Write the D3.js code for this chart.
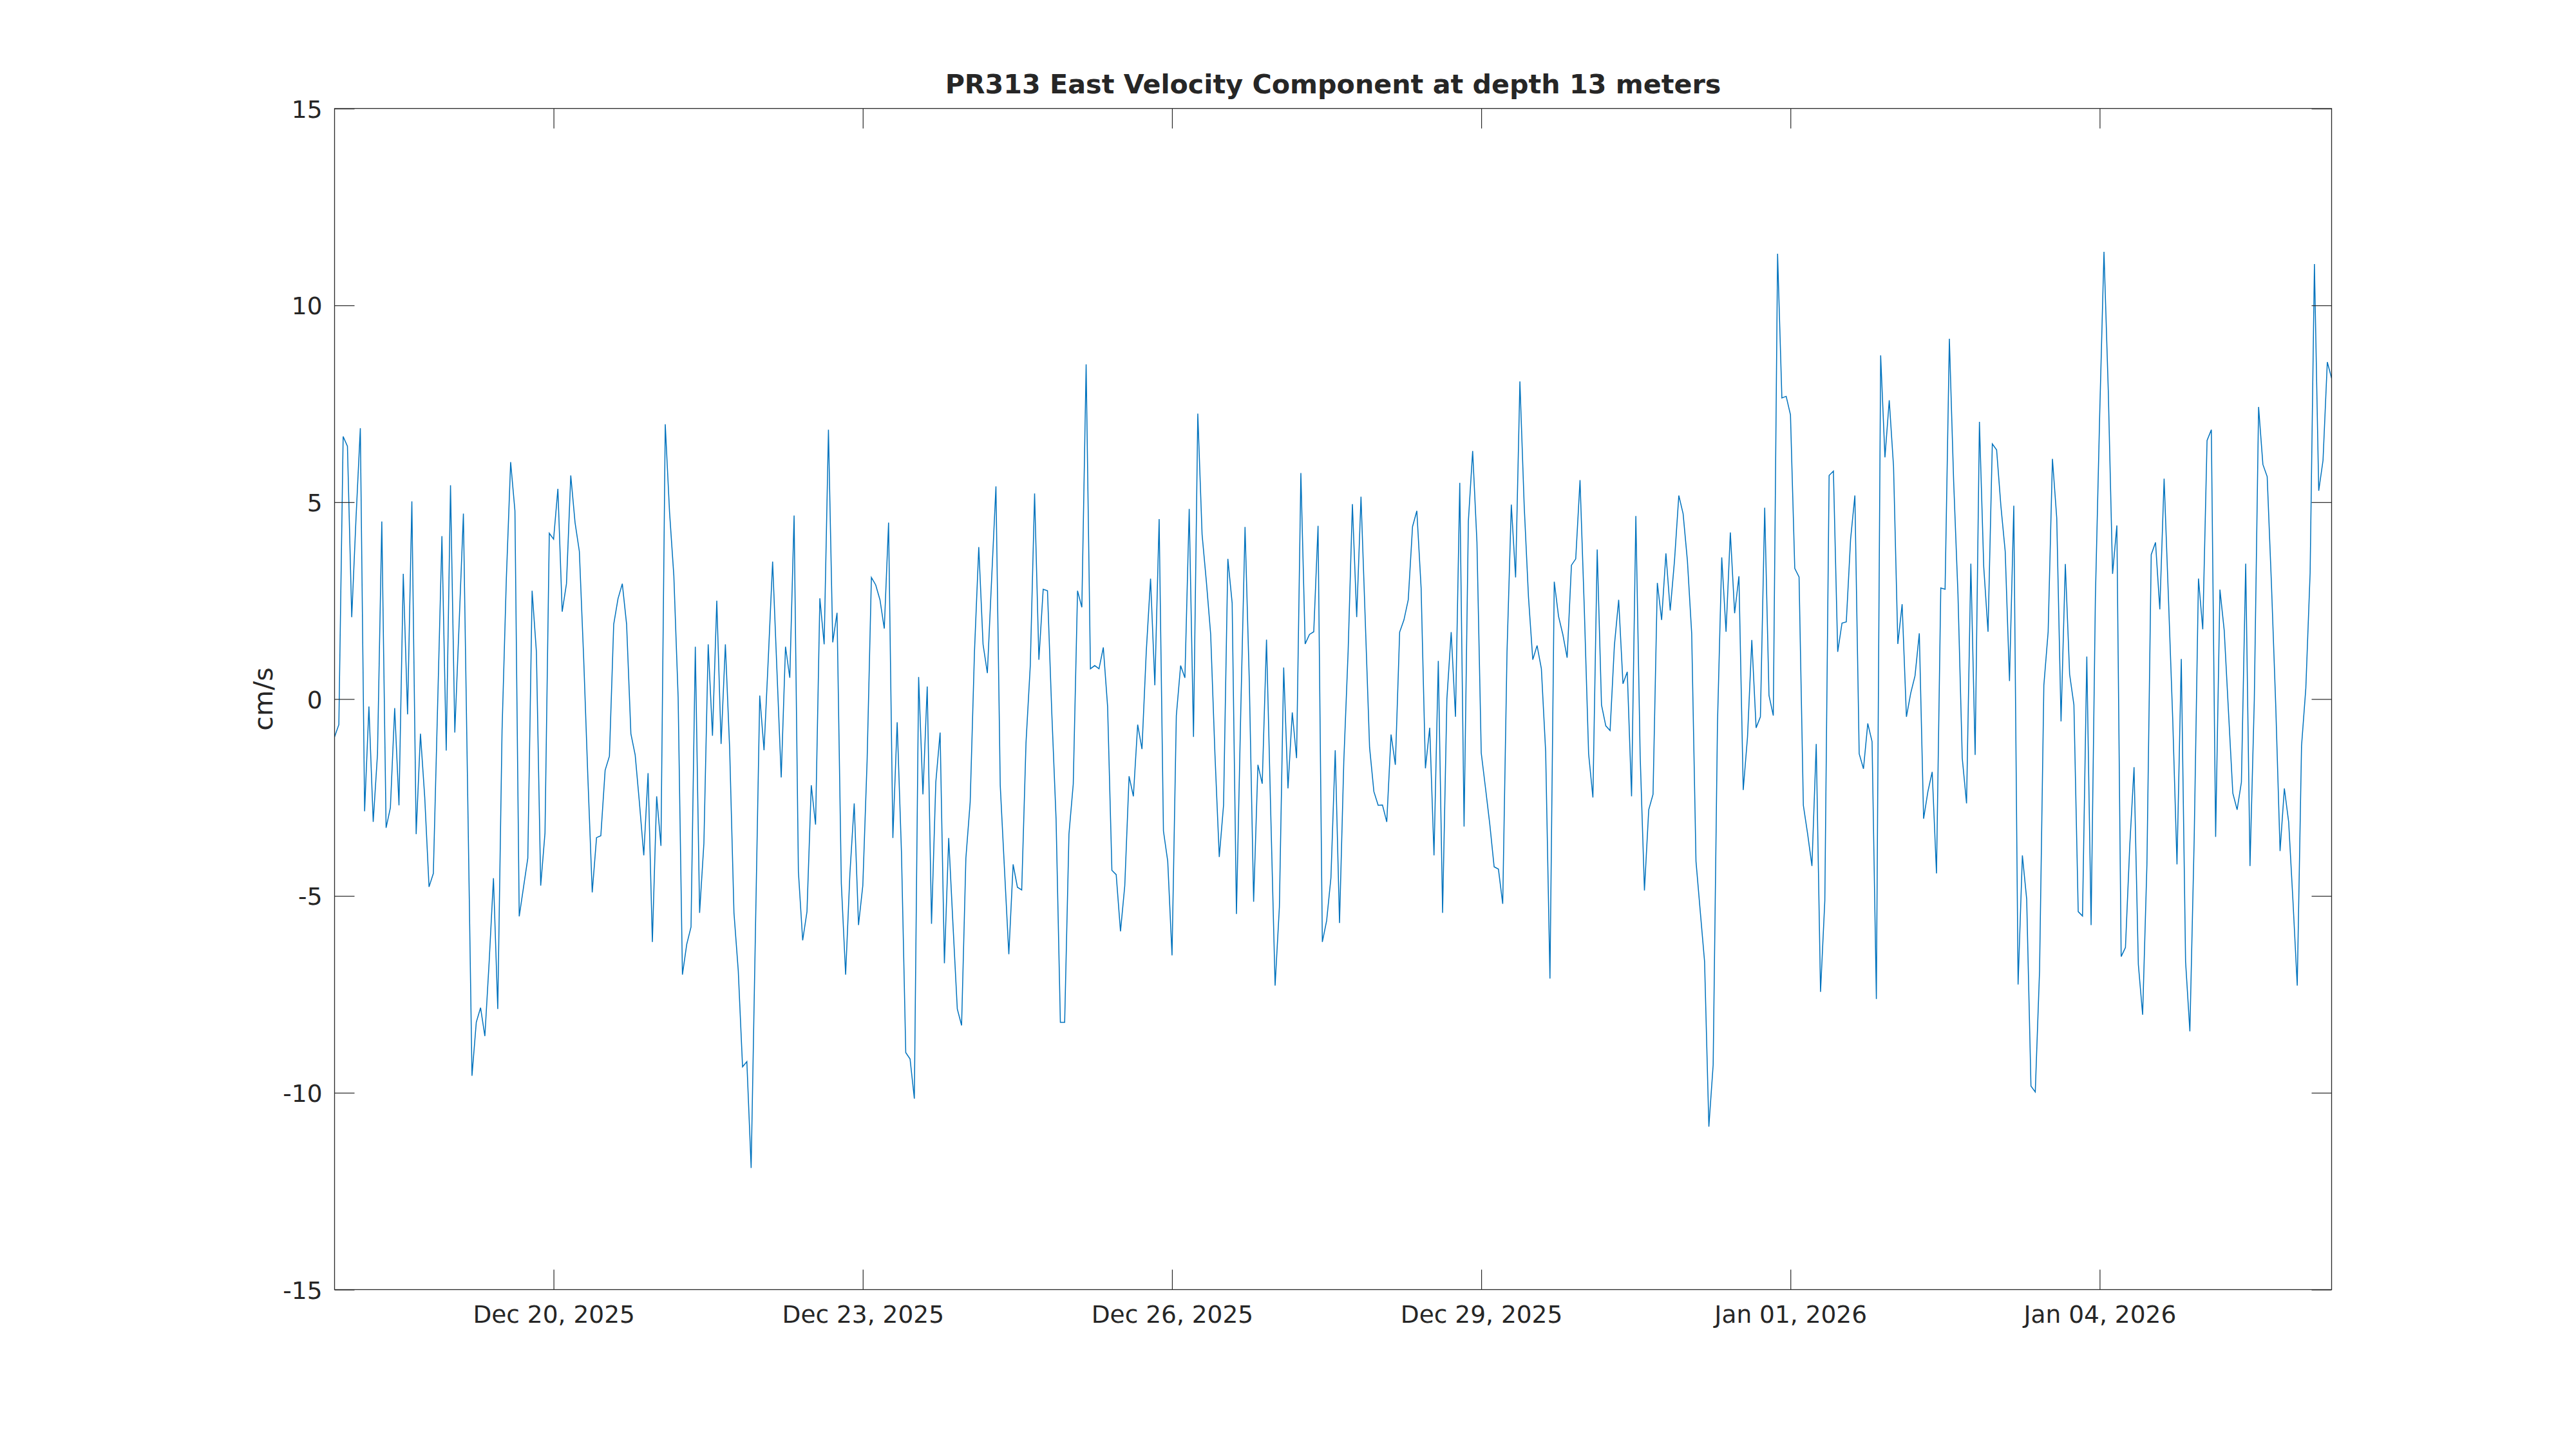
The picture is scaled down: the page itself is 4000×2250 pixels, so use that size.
<!DOCTYPE html>
<html>
<head>
<meta charset="utf-8">
<script src="https://cdn.jsdelivr.net/npm/d3@7"></script>
<style>
  html, body { margin: 0; padding: 0; background: #ffffff; }
  svg { display: block; }
  text { font-family: "DejaVu Sans", sans-serif; fill: #262626; }
</style>
</head>
<body>
<div id="chart"></div>
<script>
// ---------------- data ----------------
const chartTitle = "PR313 East Velocity Component at depth 13 meters";
const yLabel = "cm/s";
const startTime = "2025-12-17T21:00:00Z";   // first sample (hourly series)
const sampleStepHours = 1;
const eastVelocity = [
  -0.96, -0.65, 6.67, 6.42, 2.08, 4.6, 6.88, -2.85, -0.19, -3.12,
  -1.39, 4.51, -3.27, -2.76, -0.23, -2.70, 3.18, -0.39, 5.02, -3.43,
  -0.88, -2.5, -4.77, -4.43, -0.15, 4.14, -1.31, 5.43, -0.85, 1.9,
  4.71, -2.42, -9.57, -8.21, -7.84, -8.56, -6.67, -4.55,
  -7.87, -0.8, 3.06, 6.02, 4.78, -5.52, -4.78, -4.04, 2.75, 1.2,
  -4.74, -3.4, 4.21, 4.06, 5.34, 2.22, 2.93, 5.68, 4.48, 3.75,
  1.05, -2.04, -4.91, -3.52, -3.47, -1.81, -1.45, 1.9, 2.55, 2.93,
  1.9, -0.88, -1.42, -2.65, -3.97, -1.88, -6.17, -2.47, -3.73,
  6.98, 4.75, 3.13, 0.05, -7.0, -6.23, -5.79, 1.33, -5.43, -3.66,
  1.39, -0.93, 2.5, -1.14, 1.39, -1.27, -5.43, -6.9, -9.34, -9.21,
  -11.91, -5.9, 0.09, -1.3, 1.05, 3.49, 0.74, -1.99, 1.33, 0.54,
  4.66, -4.38, -6.13, -5.4, -2.19, -3.19, 2.56, 1.39, 6.84,
  1.44, 2.19, -4.69, -7.0, -4.43, -2.65, -5.74, -4.74, -1.57, 3.09,
  2.9, 2.52, 1.79, 4.48, -3.53, -0.59, -3.89, -8.98, -9.14, -10.15,
  0.56, -2.42, 0.32, -5.71, -2.11, -0.85, -6.71, -3.53, -5.74, -7.87,
  -8.29, -4.04, -2.62, 1.2, 3.86, 1.39, 0.66, 3.06, 5.4,
  -2.19, -4.35, -6.48, -4.2, -4.78, -4.85, -1.11, 0.86, 5.22, 1.0,
  2.79, 2.75, -0.34, -3.04, -8.21, -8.21, -3.43, -2.16, 2.75, 2.33,
  8.5, 0.77, 0.85, 0.77, 1.31, -0.19, -4.35, -4.46, -5.9, -4.74,
  -1.96, -2.47, -0.65, -1.27, 1.2, 3.06, 0.35, 4.57, -3.35,
  -4.12, -6.51, -0.42, 0.85, 0.54, 4.83, -0.96, 7.25, 4.18, 2.98,
  1.64, -1.42, -4.01, -2.69, 3.56, 2.44, -5.46, -0.34, 4.37, 0.43,
  -5.15, -1.67, -2.15, 1.51, -2.96, -7.28, -5.28, 0.8, -2.27, -0.34,
  -1.5, 5.74, 1.4, 1.64, 1.71, 4.4, -6.17, -5.63, -4.54,
  -1.3, -5.69, -1.57, 1.2, 4.95, 2.08, 5.14, 1.98, -1.23, -2.35,
  -2.7, -2.69, -3.12, -0.9, -1.67, 1.7, 2.01, 2.52, 4.38, 4.78,
  2.82, -1.76, -0.73, -3.97, 0.97, -5.43, 0.0, 1.7, -0.45, 5.49,
  -3.24, 4.52, 6.3, 3.98, -1.37, -2.27, -3.19, -4.26, -4.32,
  -5.2, 1.2, 4.94, 3.09, 8.07, 4.91, 2.59, 1.0, 1.36, 0.77,
  -1.34, -7.1, 2.98, 2.1, 1.64, 1.05, 3.4, 3.56, 5.56, 2.28,
  -1.39, -2.5, 3.8, -0.15, -0.68, -0.8, 1.36, 2.52, 0.39, 0.69,
  -2.47, 4.65, -1.42, -4.86, -2.81, -2.42, 2.95, 2.01, 3.7,
  2.25, 3.52, 5.17, 4.71, 3.52, 1.67, -4.12, -5.4, -6.67, -10.86,
  -9.29, -0.65, 3.6, 1.71, 4.23, 2.18, 3.12, -2.31, -0.96, 1.5,
  -0.73, -0.45, 4.86, 0.09, -0.42, 11.31, 7.65, 7.69, 7.22, 3.32,
  3.1, -2.7, -3.43, -4.24, -1.14, -7.44, -5.12, 5.68, 5.79,
  1.2, 1.93, 1.96, 4.06, 5.17, -1.39, -1.77, -0.62, -1.08, -7.62,
  8.73, 6.14, 7.59, 5.91, 1.4, 2.41, -0.45, 0.15, 0.59, 1.67,
  -3.04, -2.35, -1.85, -4.43, 2.82, 2.79, 9.15, 5.52, 2.67, -1.5,
  -2.65, 3.44, -1.42, 7.04, 3.36, 1.71, 6.48, 6.33, 4.9,
  3.75, 0.46, 4.91, -7.25, -3.97, -5.08, -9.83, -9.98, -6.9, 0.35,
  1.71, 6.1, 4.6, -0.57, 3.43, 0.63, -0.15, -5.4, -5.51, 1.08,
  -5.74, 2.59, 7.22, 11.36, 7.84, 3.18, 4.41, -6.54, -6.31, -3.73,
  -1.73, -6.74, -8.02, -4.2, 3.67, 3.98, 2.28, 5.6, 2.6,
  -0.49, -4.2, 1.02, -6.67, -8.44, -3.58, 3.06, 1.77, 6.57, 6.84,
  -3.5, 2.78, 1.74, -0.34, -2.39, -2.81, -2.11, 3.44, -4.24, -0.03,
  7.42, 5.96, 5.65, 2.9, -0.19, -3.86, -2.27, -3.12, -5.12, -7.28,
  -1.19, 0.28, 3.21, 11.05, 5.29, 6.06, 8.56, 8.15
];
const xTickDates = ["2025-12-20", "2025-12-23", "2025-12-26", "2025-12-29", "2026-01-01", "2026-01-04"];
const xTickLabels = ["Dec 20, 2025", "Dec 23, 2025", "Dec 26, 2025", "Dec 29, 2025", "Jan 01, 2026", "Jan 04, 2026"];
const yTickValues = [-15, -10, -5, 0, 5, 10, 15];
const yTickLabels = ["-15", "-10", "-5", "0", "5", "10", "15"];
const yDomain = [-15, 15];

// ---------------- layout ----------------
const W = 4000, H = 2250;
const axL = 519.5, axR = 3620.5, axT = 168.5, axB = 2002.5;
const tickLen = 31;
const tickFont = 37.5, titleFont = 41.25;
const ink = "#262626";
const lineColor = "#0072BD";

const t0 = new Date(startTime).getTime();
const points = eastVelocity.map((v, i) => ({ t: new Date(t0 + i * sampleStepHours * 3600e3), v }));

const x = d3.scaleUtc()
  .domain([points[0].t, points[points.length - 1].t])
  .range([axL, axR]);
const y = d3.scaleLinear().domain(yDomain).range([axB, axT]);
const xTicks = xTickDates.map(s => new Date(s + "T00:00:00Z"));
const xLabelOf = d => xTickLabels[xTicks.findIndex(t => t.getTime() === d.getTime())];
const yLabelOf = d => yTickLabels[yTickValues.indexOf(d)];

const svg = d3.select("#chart").append("svg")
  .attr("width", W).attr("height", H)
  .attr("viewBox", `0 0 ${W} ${H}`);
svg.append("rect").attr("width", W).attr("height", H).attr("fill", "#ffffff");

// data line (clipped to axes box)
svg.append("clipPath").attr("id", "clip")
  .append("rect").attr("x", axL).attr("y", axT)
  .attr("width", axR - axL).attr("height", axB - axT);

svg.append("path")
  .datum(points)
  .attr("clip-path", "url(#clip)")
  .attr("fill", "none")
  .attr("stroke", lineColor)
  .attr("stroke-width", 1.5)
  .attr("stroke-linejoin", "miter")
  .attr("d", d3.line().x(d => x(d.t)).y(d => y(d.v)));

// axes
function styleAxis(g) {
  g.select(".domain").remove();
  g.selectAll(".tick line").attr("stroke", ink).attr("stroke-width", 1.2);
  g.selectAll(".tick text").attr("fill", ink).attr("font-size", tickFont)
    .attr("font-family", "DejaVu Sans, sans-serif");
}

const xAxisB = svg.append("g").attr("transform", `translate(0,${axB})`)
  .call(d3.axisBottom(x).tickValues(xTicks).tickSizeInner(-tickLen).tickSizeOuter(0)
    .tickPadding(0).tickFormat(xLabelOf));
styleAxis(xAxisB);
xAxisB.selectAll(".tick text").attr("y", 51.5).attr("dy", null);

const xAxisT = svg.append("g").attr("transform", `translate(0,${axT})`)
  .call(d3.axisTop(x).tickValues(xTicks).tickSizeInner(-tickLen).tickSizeOuter(0).tickFormat(""));
styleAxis(xAxisT);

const yAxisL = svg.append("g").attr("transform", `translate(${axL},0)`)
  .call(d3.axisLeft(y).tickValues(yTickValues).tickSizeInner(-tickLen).tickSizeOuter(0)
    .tickPadding(0).tickFormat(yLabelOf));
styleAxis(yAxisL);
yAxisL.selectAll(".tick text").attr("x", -19).attr("dy", "0.36em");

const yAxisR = svg.append("g").attr("transform", `translate(${axR},0)`)
  .call(d3.axisRight(y).tickValues(yTickValues).tickSizeInner(-tickLen).tickSizeOuter(0).tickFormat(""));
styleAxis(yAxisR);

// frame
svg.append("rect")
  .attr("x", axL).attr("y", axT)
  .attr("width", axR - axL).attr("height", axB - axT)
  .attr("fill", "none").attr("stroke", ink).attr("stroke-width", 1.3);

// title
svg.append("text")
  .attr("x", (axL + axR) / 2).attr("y", 145)
  .attr("text-anchor", "middle")
  .attr("font-size", titleFont).attr("font-weight", "bold")
  .text(chartTitle);

// y label
svg.append("text")
  .attr("transform", `translate(408,${(axT + axB) / 2}) rotate(-90)`)
  .attr("text-anchor", "middle")
  .attr("dy", "0.36em")
  .attr("font-size", titleFont)
  .text(yLabel);
</script>
</body>
</html>
